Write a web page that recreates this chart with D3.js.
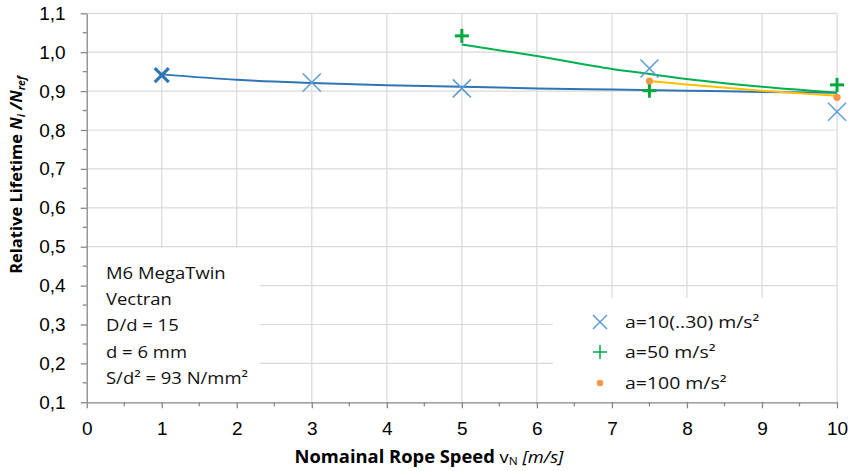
<!DOCTYPE html>
<html><head><meta charset="utf-8">
<script src="https://cdn.jsdelivr.net/npm/d3@7"></script>
<style>body{margin:0;background:#fff;} svg{display:block;}</style>
</head><body>
<script>
// ---- data ----
const xTicks = [0,1,2,3,4,5,6,7,8,9,10];
const yTicks = [0.1,0.2,0.3,0.4,0.5,0.6,0.7,0.8,0.9,1.0,1.1];
const yTickLabels = ["0,1","0,2","0,3","0,4","0,5","0,6","0,7","0,8","0,9","1,0","1,1"];

const s10x = [1, 3, 5, 7.5, 10];
const s10y = [0.941, 0.922, 0.907, 0.958, 0.847];
const s50x = [5, 7.5, 10];
const s50y = [1.042, 0.901, 0.916];
const s100x = [7.5, 10];
const s100y = [0.926, 0.884];

// trend lines
const t10x = [1,2,3,4,5,6,7,8,9,10];
const t10y = [0.943,0.929,0.921,0.915,0.911,0.907,0.904,0.901,0.898,0.896];
const t50x = [5,6,7,7.5,8,9,10];
const t50y = [1.020,0.990,0.957,0.944,0.931,0.911,0.896];
const t100x = [7.5,8,9,10];
const t100y = [0.926,0.917,0.901,0.888];

const legendLabels = ["a=10(..30) m/s²","a=50 m/s²","a=100 m/s²"];
const infoLines = ["M6 MegaTwin","Vectran","D/d = 15","d = 6 mm","S/d² = 93 N/mm²"];

// ---- chart ----
const W = 851, H = 471;
const svg = d3.select("body").append("svg").attr("width", W).attr("height", H);
const x = d3.scaleLinear().domain([0,10]).range([86.7, 837]);
const y = d3.scaleLinear().domain([0.1,1.1]).range([402.3, 13.3]);

const grid = svg.append("g");
grid.selectAll("line.v").data(xTicks.filter(d=>d>0)).enter().append("line")
  .attr("x1", d=>x(d)).attr("x2", d=>x(d)).attr("y1", y(1.1)).attr("y2", y(0.1))
  .attr("stroke", "#d9d9d9").attr("stroke-width", 1.2);
grid.selectAll("line.h").data(yTicks.filter(d=>d>0.15)).enter().append("line")
  .attr("x1", x(0)).attr("x2", x(10)).attr("y1", d=>y(d)).attr("y2", d=>y(d))
  .attr("stroke", "#d9d9d9").attr("stroke-width", 1.2);

// info box (covers gridlines)
svg.append("rect").attr("x", x(0)+1).attr("y", y(0.5)+1.5).attr("width", 172).attr("height", y(0.1)-y(0.5)-2)
  .attr("fill", "#fff");
// legend box
svg.append("rect").attr("x", 553).attr("y", 298).attr("width", x(10)-553-1).attr("height", y(0.1)-298-1)
  .attr("fill", "#fff");

// axes
const axisColor = "#868686";
const tf = "Liberation Sans, Arial, sans-serif";
const xMinor = d3.range(0.5, 10, 1);
const yMinor = d3.range(0.15, 1.1, 0.1);
const gx = svg.append("g").attr("transform", `translate(0,${y(0.1)})`)
  .call(d3.axisBottom(x).tickValues(xTicks).tickSize(6).tickSizeOuter(0).tickFormat(d3.format("d")));
gx.select(".domain").attr("stroke", axisColor).attr("stroke-width", 1.3);
gx.selectAll(".tick line").attr("stroke", axisColor).attr("stroke-width", 1.3);
gx.selectAll(".tick text").attr("font-family", tf).attr("font-size", 19).attr("fill", "#000")
  .attr("y", 32.5).attr("dy", 0);
svg.append("g").selectAll("line").data(xMinor).enter().append("line")
  .attr("x1", d=>x(d)).attr("x2", d=>x(d)).attr("y1", y(0.1)).attr("y2", y(0.1)+4)
  .attr("stroke", axisColor).attr("stroke-width", 1.3);

const gy = svg.append("g").attr("transform", `translate(${x(0)},0)`)
  .call(d3.axisLeft(y).tickValues(yTicks).tickSize(6).tickSizeOuter(0).tickFormat((d,i)=>yTickLabels[i]));
gy.select(".domain").attr("stroke", axisColor).attr("stroke-width", 1.3);
gy.selectAll(".tick line").attr("stroke", axisColor).attr("stroke-width", 1.3);
gy.selectAll(".tick text").attr("font-family", tf).attr("font-size", 19).attr("fill", "#000").attr("x", -21);
svg.append("g").selectAll("line").data(yMinor).enter().append("line")
  .attr("x1", x(0)-4).attr("x2", x(0)).attr("y1", d=>y(d)).attr("y2", d=>y(d))
  .attr("stroke", axisColor).attr("stroke-width", 1.3);

// trend lines
const line = d3.line().x(d=>x(d[0])).y(d=>y(d[1])).curve(d3.curveMonotoneX);
const trend = (xs, ys, color) => svg.append("path").datum(xs.map((v,i)=>[v, ys[i]]))
  .attr("d", line).attr("fill", "none").attr("stroke", color).attr("stroke-width", 2);
trend(t10x, t10y, "#2e75b6");
trend(t50x, t50y, "#00b050");
trend(t100x, t100y, "#ffc000");

// markers
const cross = (g, cx, cy, r, color, w) => {
  g.append("line").attr("x1", cx-r).attr("y1", cy-r).attr("x2", cx+r).attr("y2", cy+r).attr("stroke", color).attr("stroke-width", w);
  g.append("line").attr("x1", cx-r).attr("y1", cy+r).attr("x2", cx+r).attr("y2", cy-r).attr("stroke", color).attr("stroke-width", w);
};
const plus = (g, cx, cy, r, color, w) => {
  g.append("line").attr("x1", cx-r).attr("y1", cy).attr("x2", cx+r).attr("y2", cy).attr("stroke", color).attr("stroke-width", w);
  g.append("line").attr("x1", cx).attr("y1", cy-r).attr("x2", cx).attr("y2", cy+r).attr("stroke", color).attr("stroke-width", w);
};
const mk = svg.append("g");
s10x.forEach((v,i)=>{
  if (i===0) cross(mk, x(v), y(s10y[i]), 7, "#2e75b6", 3.2);
  else cross(mk, x(v), y(s10y[i]), 9, "#5b9bd5", 1.5);
});
s50x.forEach((v,i)=>plus(mk, x(v), y(s50y[i]), 7, "#00a83d", 3));
s100x.forEach((v,i)=>mk.append("circle").attr("cx", x(v)).attr("cy", y(s100y[i])).attr("r", 3.6).attr("fill", "#f79646"));

// stretched text helper (reference text is slightly wide)
const lf = "Open Sans, Liberation Sans, sans-serif";
const stext = (px, py, sx, size) => svg.append("g").attr("transform", `translate(${px},${py}) scale(${sx},1)`)
  .append("text").attr("font-family", lf).attr("font-size", size).attr("fill", "#111");

// legend
const leg = svg.append("g");
const legY = [322, 352, 383];
cross(leg, 600, legY[0], 7, "#5b9bd5", 1.5);
plus(leg, 600, legY[1], 7, "#00b050", 1.6);
leg.append("circle").attr("cx", 600).attr("cy", legY[2]).attr("r", 3.3).attr("fill", "#f79646");
legendLabels.forEach((t,i)=>stext(625, legY[i]+6, 1.18, 16.5).text(t));

// info text
infoLines.forEach((t,i)=>stext(106, 279 + i*26.2, 1.12, 16.5).text(t));

// axis titles
const xt = stext(429, 463, 1.08, 17).attr("text-anchor", "middle").attr("fill", "#000");
xt.append("tspan").attr("font-weight", "bold").text("Nomainal  Rope Speed ");
xt.append("tspan").text("v");
xt.append("tspan").attr("font-size", 11).attr("dy", 2).text("N");
xt.append("tspan").attr("dy", -2).attr("font-style", "italic").text(" [m/s]");

const yt = svg.append("text").attr("transform", "translate(22,175) rotate(-90)").attr("text-anchor", "middle")
  .attr("font-family", lf).attr("font-size", 16.5).attr("font-weight", "bold").attr("fill", "#000");
yt.append("tspan").text("Relative Lifetime ");
yt.append("tspan").attr("font-style", "italic").text("N");
yt.append("tspan").attr("font-style", "italic").attr("font-size", 10.5).attr("dy", 3).text("i");
yt.append("tspan").attr("font-style", "italic").attr("dy", -3).text(" /N");
yt.append("tspan").attr("font-style", "italic").attr("font-size", 10.5).attr("dy", 3).text("ref");
</script>
</body></html>
